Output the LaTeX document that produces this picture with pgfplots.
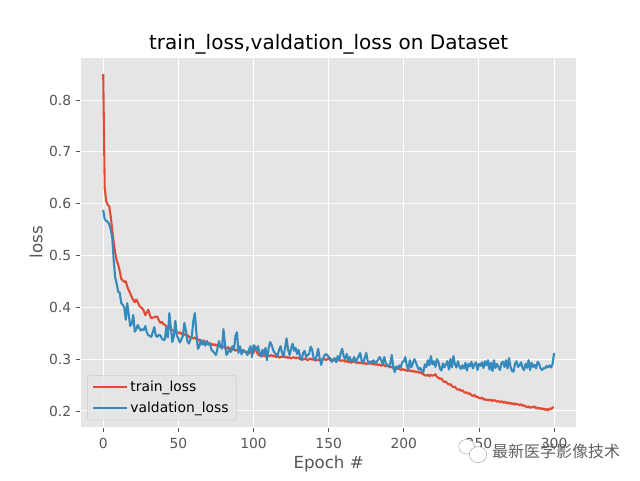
\documentclass[border=0pt]{standalone}
\usepackage{pgfplots}
\usepackage{pgfplotstable}
\usepackage{fontspec}
\pgfplotsset{compat=1.18}
\setmainfont{DejaVu Sans}
\newfontfamily\cjk{Noto Sans CJK SC}
\definecolor{ggred}{HTML}{E24A33}
\definecolor{ggblue}{HTML}{348ABD}
\definecolor{ggbg}{HTML}{E5E5E5}
\definecolor{gglab}{HTML}{555555}
\pgfplotstableread{
y
.850 
.630 
.605 
.598 
.595 
.575 
.549 
.525 
.505 
.490
.482 
.470 
.455 
.452 
.449 
.450 
.440 
.433 
.427 
.420
.414 
.410 
.415 
.410 
.403 
.400 
.398 
.393 
.385 
.390
.395 
.385 
.379 
.380 
.381 
.382 
.382 
.375 
.370 
.372
.368 
.366 
.364 
.362 
.360 
.358 
.356 
.355 
.353 
.352
.350 
.352 
.349 
.347 
.348 
.346 
.347 
.343 
.342 
.341
.340 
.342 
.338 
.336 
.338 
.335 
.333 
.336 
.332 
.330
.332 
.329 
.330 
.327 
.329 
.326 
.328 
.324 
.325 
.323
.325 
.322 
.320 
.323 
.319 
.322 
.318 
.320 
.316 
.318
.317 
.319 
.316 
.314 
.316 
.313 
.315 
.312 
.314 
.311
.312 
.325 
.315 
.309 
.307 
.312 
.306 
.309 
.305 
.308
.307 
.306 
.308 
.305 
.307 
.304 
.306 
.303 
.305 
.304
.306 
.303 
.305 
.302 
.304 
.301 
.303 
.304 
.301 
.303
.302 
.300 
.302 
.299 
.301 
.300 
.298 
.300 
.301 
.299
.300 
.297 
.299 
.298 
.300 
.297 
.299 
.301 
.298 
.300
.301 
.298 
.300 
.297 
.299 
.296 
.298 
.300 
.296 
.298
.297 
.295 
.297 
.294 
.296 
.293 
.296 
.294 
.295 
.292
.294 
.292 
.294 
.291 
.293 
.290 
.292 
.291 
.293 
.290
.291 
.289 
.291 
.288 
.290 
.287 
.289 
.288 
.286 
.288
.286 
.284 
.286 
.282 
.284 
.281 
.283 
.281 
.279 
.281
.279 
.280 
.277 
.279 
.277 
.278 
.276 
.277 
.275 
.276
.274 
.275 
.272 
.271 
.269 
.268 
.270 
.267 
.270 
.268
.269 
.271 
.266 
.264 
.262 
.263 
.258 
.256 
.257 
.253
.251 
.252 
.248 
.246 
.247 
.243 
.241 
.242 
.239 
.240
.237 
.235 
.236 
.233 
.234 
.230 
.229 
.231 
.227 
.228
.225 
.224 
.226 
.222 
.223 
.221 
.222 
.220 
.222 
.219
.221 
.220 
.218 
.219 
.217 
.219 
.216 
.218 
.215 
.217
.214 
.216 
.213 
.215 
.212 
.214 
.213 
.211 
.213 
.210
.211 
.209 
.207 
.209 
.206 
.208 
.207 
.209 
.205 
.207
.204 
.206 
.203 
.205 
.202 
.204 
.201 
.205 
.203 
.207
.207
}\trainloss
\pgfplotstableread{
y
.588 
.570 
.567 
.565 
.560 
.550 
.535 
.490 
.457 
.445
.430 
.428 
.408 
.405 
.400 
.376 
.408 
.385 
.364 
.368
.385 
.353 
.358 
.366 
.360 
.355 
.358 
.356 
.364 
.352
.346 
.345 
.343 
.352 
.362 
.345 
.343 
.347 
.346 
.340
.337 
.338 
.362 
.342 
.389 
.360 
.333 
.345 
.374 
.345
.340 
.332 
.338 
.345 
.370 
.355 
.335 
.330 
.338 
.345
.375 
.389 
.350 
.320 
.325 
.337 
.328 
.334 
.326 
.335
.328 
.330 
.318 
.315 
.312 
.308 
.320 
.335 
.325 
.320
.358 
.330 
.308 
.312 
.320 
.314 
.325 
.318 
.345 
.352
.312 
.325 
.309 
.318 
.315 
.313 
.308 
.318 
.325 
.304
.327 
.322 
.318 
.325 
.312 
.305 
.318 
.310 
.322 
.298
.320 
.333 
.328 
.318 
.312 
.310 
.306 
.318 
.325 
.312
.305 
.322 
.340 
.318 
.308 
.320 
.330 
.316 
.322 
.310
.318 
.305 
.298 
.312 
.316 
.304 
.308 
.310 
.324 
.318
.302 
.298 
.306 
.320 
.302 
.289 
.300 
.306 
.310 
.308
.304 
.302 
.295 
.298 
.302 
.294 
.306 
.298 
.312 
.320
.305 
.300 
.310 
.298 
.304 
.296 
.298 
.304 
.294 
.300
.306 
.312 
.296 
.294 
.302 
.312 
.296 
.292 
.296 
.294
.298 
.292 
.295 
.300 
.304 
.298 
.290 
.304 
.292 
.288
.286 
.292 
.308 
.284 
.275 
.286 
.282 
.288 
.284 
.294
.296 
.304 
.288 
.280 
.298 
.284 
.292 
.300 
.294 
.286
.280 
.283 
.278 
.275 
.290 
.285 
.298 
.288 
.306 
.290
.296 
.285 
.300 
.295 
.282 
.278 
.292 
.284 
.290 
.296
.280 
.300 
.284 
.306 
.290 
.284 
.296 
.286 
.281 
.288
.282 
.293 
.278 
.291 
.286 
.295 
.282 
.290 
.294 
.279
.291 
.287 
.294 
.283 
.296 
.288 
.298 
.280 
.293 
.277
.298 
.283 
.291 
.285 
.279 
.293 
.295 
.285 
.298 
.282
.302 
.285 
.277 
.276 
.291 
.296 
.285 
.288 
.294 
.283
.279 
.291 
.283 
.298 
.279 
.293 
.285 
.289 
.282 
.295
.291 
.282 
.279 
.283 
.282 
.287 
.284 
.288 
.284 
.291
.312
}\valloss
\begin{document}
\begin{tikzpicture}[x=1pt,y=1pt]
\path[use as bounding box] (0,0) rectangle (480,360);
\begin{axis}[
  at={(60.5pt,39.6pt)},anchor=south west,
  scale only axis,width=372pt,height=277.2pt,
  xmin=-15,xmax=315,ymin=0.1687,ymax=0.8818,
  axis background/.style={fill=ggbg},
  axis line style={draw=white,line width=0.75pt},
  grid=major,
  major grid style={white,line width=0.75pt},
  axis on top=false,
  xtick={0,50,100,150,200,250,300},
  ytick={0.2,0.3,0.4,0.5,0.6,0.7,0.8},
  yticklabels={0.2,0.3,0.4,0.5,0.6,0.7,0.8},
  /pgf/number format/assume math mode=true,
  tick align=outside,tick pos=left,
  major tick length=3.65pt,
  tick style={gglab,line width=0.6pt},
  tick label style={font=\fontsize{10.4}{12}\selectfont,text=gglab},
  xticklabel style={yshift=-1.2pt},
  xlabel={Epoch \#},ylabel={loss},
  label style={font=\fontsize{12.5}{15}\selectfont,text=gglab},
  xlabel style={at={(axis description cs:0.5,0)},anchor=north,yshift=-18pt},
  ylabel style={at={(axis description cs:0,0.5)},anchor=south,yshift=25pt},
  title={train\_loss,valdation\_loss on Dataset},
  title style={font=\fontsize{15}{18}\selectfont,text=black,at={(axis description cs:0.5,1)},anchor=south,yshift=-7pt},
  legend style={at={(axis description cs:0.0128,0.019)},anchor=south west,
    draw=black!20,fill=ggbg,fill opacity=0.8,text opacity=1,rounded corners=2pt,
    font=\fontsize{10.4}{12}\selectfont,text=black,
    row sep=2.6pt,inner xsep=3.8pt,inner ysep=2pt},
  legend cell align=left,
  legend image code/.code={\draw[#1,line width=1.56pt] (0pt,0pt)--(25pt,0pt);},
  every axis plot/.append style={line width=1.56pt,line join=round},
]
\addplot[ggred,no markers] table[x expr=\coordindex,y=y]{\trainloss};
\addlegendentry{train\_loss}
\addplot[ggblue,no markers] table[x expr=\coordindex,y=y]{\valloss};
\addlegendentry{valdation\_loss}
\end{axis}
\node[anchor=center,text=black!62,font={\cjk\fontsize{12}{14}\selectfont}] at (417,21.5) {最新医学影像技术};
\draw[black!40,fill=white,line width=0.3pt] (350,25) ellipse (6 and 5.5);
\draw[black!40,fill=white,line width=0.3pt] (358.5,19) ellipse (6.5 and 6);
\end{tikzpicture}
\end{document}
